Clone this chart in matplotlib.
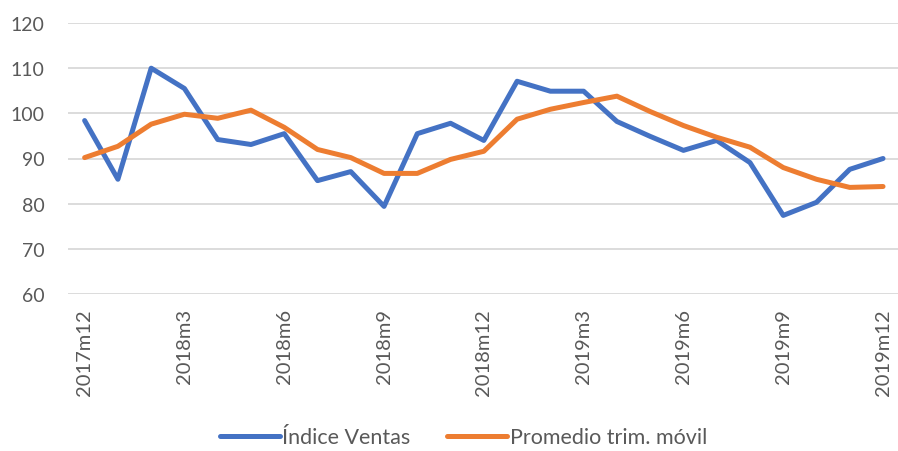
import numpy as np
import matplotlib
matplotlib.use("Agg")
from matplotlib import pyplot as plt

plt.rcParams['font.family'] = ['Lato', 'DejaVu Sans']

# datos mensuales 2017m12 .. 2019m12
meses = ['2017m12', '2018m1', '2018m2', '2018m3', '2018m4', '2018m5', '2018m6',
         '2018m7', '2018m8', '2018m9', '2018m10', '2018m11', '2018m12',
         '2019m1', '2019m2', '2019m3', '2019m4', '2019m5', '2019m6',
         '2019m7', '2019m8', '2019m9', '2019m10', '2019m11', '2019m12']
indice_ventas = [98.4, 85.4, 110.0, 105.5, 94.2, 93.1, 95.5, 85.1, 87.1, 79.4,
                 95.5, 97.8, 94.0, 107.1, 104.9, 104.9, 98.2, 94.9, 91.8, 94.0,
                 89.1, 77.4, 80.3, 87.6, 90.0]
promedio_movil = [90.2, 92.7, 97.6, 99.8, 98.9, 100.7, 96.9, 92.0, 90.2, 86.7,
                  86.7, 89.8, 91.6, 98.7, 100.9, 102.4, 103.8, 100.4, 97.3, 94.7,
                  92.5, 88.0, 85.4, 83.6, 83.8]
y_ticks = [60, 70, 80, 90, 100, 110, 120]

fig = plt.figure(figsize=(8.98, 4.52), dpi=100)
ax = fig.add_axes([68/898, 1-295/452, (898-68)/898, (295-24)/452])

x = np.arange(len(meses))
ax.plot(x, indice_ventas, color='#4472C4', lw=3.6, label='Índice Ventas', solid_capstyle='round')
ax.plot(x, promedio_movil, color='#ED7D31', lw=3.6, label='Promedio trim. móvil', solid_capstyle='round')

ax.set_xlim(-0.5, 24.45)
ax.set_ylim(60, 120)
ax.set_yticks(y_ticks)
ax.set_xticks(x[::3])
ax.set_xticklabels(meses[::3], rotation=90)
ax.grid(axis='y', color='#D9D9D9', lw=1.3)
ax.set_axisbelow(True)
for s in ax.spines.values():
    s.set_visible(False)
ax.tick_params(axis='both', length=0, labelsize=14, colors='#595959')
ax.tick_params(axis='x', labelsize=14.5, pad=10)
ax.tick_params(axis='y', pad=17)

fig.legend(loc='lower center', bbox_to_anchor=(0.516, -0.035), ncol=2, frameon=False,
           fontsize=15.5, handlelength=2.8, handletextpad=0.1, columnspacing=1.7,
           labelcolor='#595959')

fig.savefig('out.png', dpi=100)
